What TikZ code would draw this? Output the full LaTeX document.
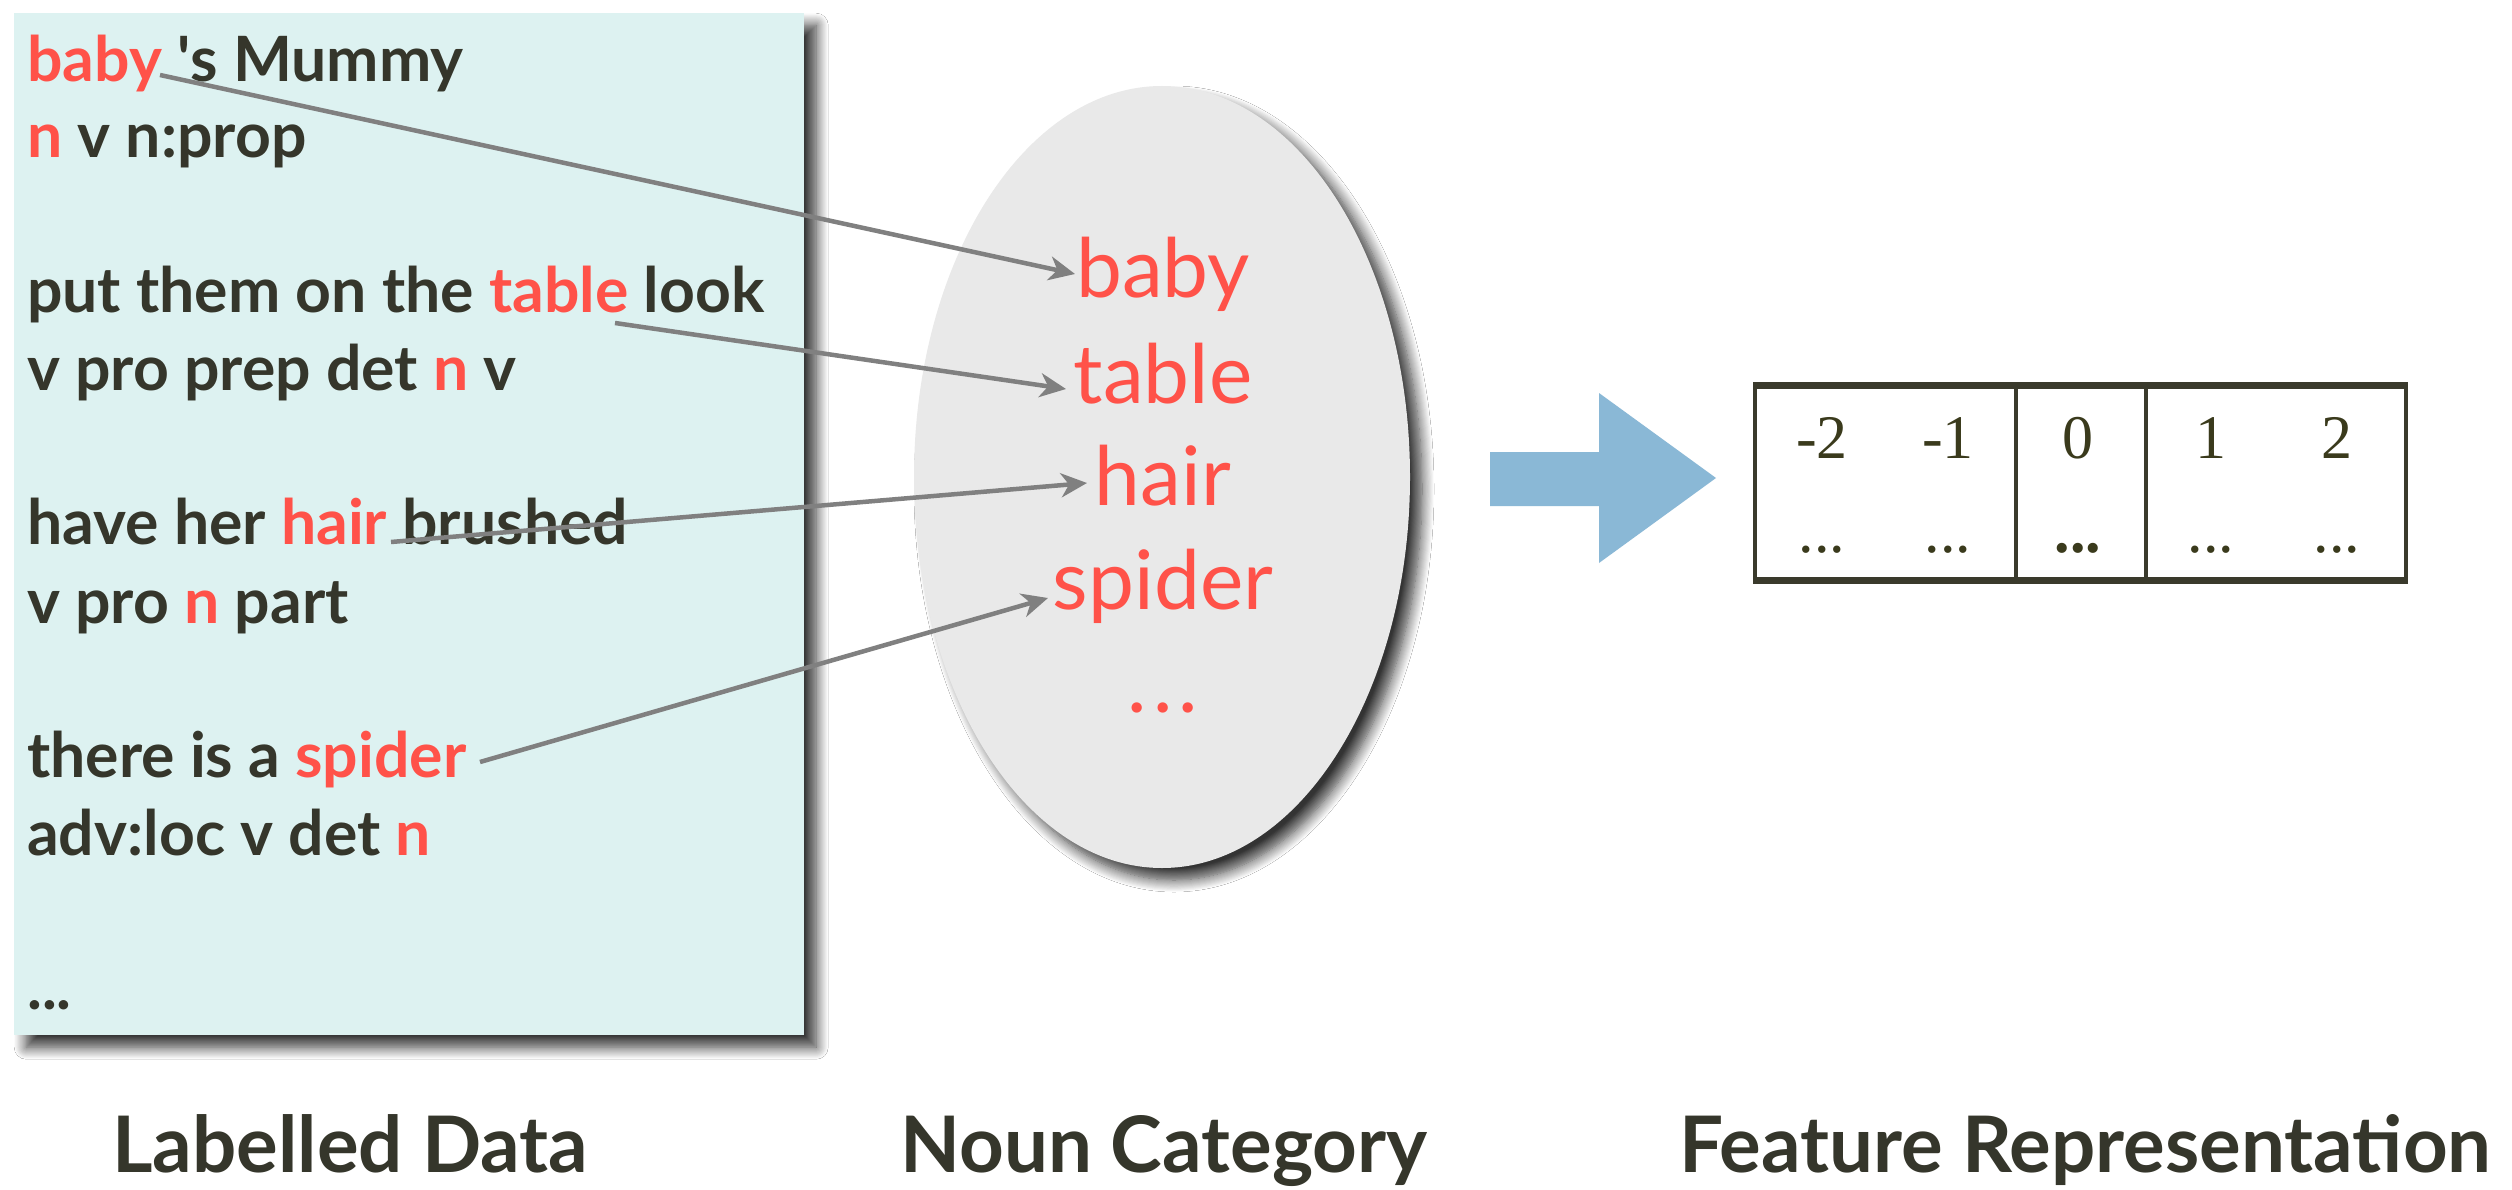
\documentclass[tikz,border=0pt]{standalone}
\usepackage{fontspec}
\setmainfont{Lato}
\newfontfamily\numfont{Liberation Serif}
\usetikzlibrary{shadows.blur,shapes.geometric,arrows.meta}
\definecolor{ink}{HTML}{35362B}
\definecolor{hl}{HTML}{FF5249}
\definecolor{boxfill}{HTML}{DDF2F1}
\definecolor{ellfill}{HTML}{E9E9E9}
\definecolor{arrowblue}{HTML}{8AB8D6}
\definecolor{linkgray}{HTML}{808080}
\definecolor{tabline}{HTML}{3A3A2C}
\definecolor{numink}{HTML}{3A3A1C}
\begin{document}
\begin{tikzpicture}[x=1pt,y=-1pt,
  dataline/.style={anchor=base west, inner sep=0pt, text=ink, font=\fontsize{62.5}{72}\selectfont\bfseries},
  nounword/.style={anchor=base, inner sep=0pt, text=hl, font=\fontsize{82}{100}\selectfont},
  linkarrow/.style={draw=linkgray, line width=4.5pt, -{Stealth[length=26pt,width=24pt,inset=8pt]}},
  numcell/.style={anchor=base, inner sep=0pt, text=numink, font=\fontsize{62}{70}\selectfont\numfont},
  caption/.style={anchor=base west, inner sep=0pt, text=ink, font=\fontsize{78}{90}\selectfont\bfseries},
  softshadow/.style={blur shadow={shadow xshift=12pt, shadow yshift=-12pt, shadow blur radius=12pt, shadow blur steps=12, shadow opacity=80}}
]
\useasboundingbox (0,0) rectangle (2512,1190);
\fill[white] (0,0) rectangle (2512,1190);

% labelled data box
\node[softshadow, fill=boxfill, minimum width=790pt, minimum height=1022pt, inner sep=0pt, anchor=north west] (data) at (14,13) {};
\node[dataline] (l1) at (27,82) {\textcolor{hl}{baby} \textquotesingle s Mummy};
\node[dataline] (l2) at (27,158) {\textcolor{hl}{n} v n:prop};
\node[dataline] (l3) at (27,313) {put them on the \textcolor{hl}{table} look};
\node[dataline] (l4) at (27,390) {v pro prep det \textcolor{hl}{n} v};
\node[dataline] (l5) at (27,544) {have her \textcolor{hl}{hair} brushed};
\node[dataline] (l6) at (27,623) {v pro \textcolor{hl}{n} part};
\node[dataline] (l7) at (27,777) {there is a \textcolor{hl}{spider}};
\node[dataline] (l8) at (27,855) {adv:loc v det \textcolor{hl}{n}};
\node[dataline] (l9) at (27,1009) {...};

% noun category
\node[softshadow, ellipse, fill=ellfill, minimum width=496pt, minimum height=782pt, inner sep=0pt] (cat) at (1162,477) {};
\node[nounword] (wbaby) at (1163,298) {baby};
\node[nounword] (wtable) at (1163,403) {table};
\node[nounword] (whair) at (1163,505) {hair};
\node[nounword] (wspider) at (1163,609) {spider};
\node[nounword] (wdots) at (1163,712) {.\hspace{6pt}.\hspace{6pt}.};

% connectors
\coordinate (s1) at (160,75);
\coordinate (s2) at (615,323);
\coordinate (s3) at (391,542);
\coordinate (s4) at (480,762);
\coordinate (e1) at (1075,274);
\coordinate (e2) at (1066,389);
\coordinate (e3) at (1087,483);
\coordinate (e4) at (1048,598);
\draw[linkarrow] (s1) -- (e1);
\draw[linkarrow] (s2) -- (e2);
\draw[linkarrow] (s3) -- (e3);
\draw[linkarrow] (s4) -- (e4);

% big blue arrow
\fill[arrowblue] (1490,452) -- (1599,452) -- (1599,393) -- (1716,478) -- (1599,563) -- (1599,506) -- (1490,506) -- cycle;

% feature table
\draw[tabline, line width=3.5pt] (1755,385) rectangle (2406,580);
\draw[tabline, line width=7pt] (1753,385) -- (2408,385);
\draw[tabline, line width=7pt] (1753,580) -- (2408,580);
\draw[tabline, line width=3.5pt] (2016,385) -- (2016,580);
\draw[tabline, line width=3.5pt] (2146,385) -- (2146,580);
\node[numcell] (n1) at (1822,458) {-2};
\node[numcell] (n2) at (1948,458) {-1};
\node[numcell] (n3) at (2078,458) {0};
\node[numcell] (n4) at (2211,458) {1};
\node[numcell] (n5) at (2337,458) {2};
\node[numcell] (d1) at (1822,552) {...};
\node[numcell] (d2) at (1948,552) {...};
\node[numcell, font=\fontsize{62}{70}\selectfont\numfont\bfseries] (d3) at (2078,552) {...};
\node[numcell] (d4) at (2211,552) {...};
\node[numcell] (d5) at (2337,552) {...};

% captions
\node[caption] (c1) at (112,1172) {Labelled Data};
\node[caption] (c2) at (900,1172) {Noun Category};
\node[caption] (c3) at (1679,1172) {Feature Representation};
\end{tikzpicture}
\end{document}
